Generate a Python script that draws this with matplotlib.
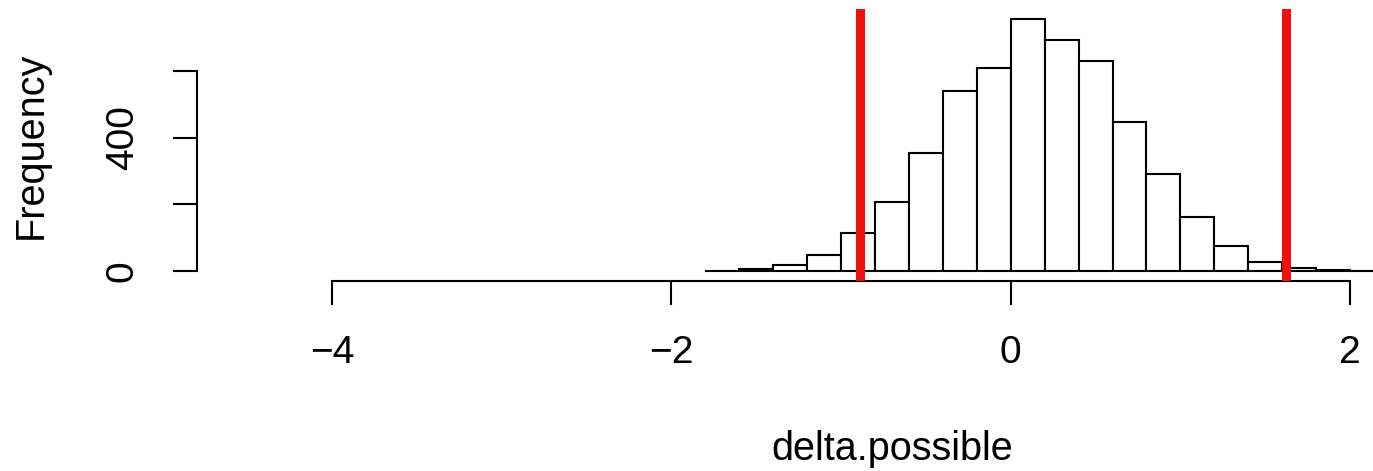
import matplotlib
matplotlib.use("Agg")
import matplotlib.pyplot as plt

# ---- data ----
bin_left = [-1.8, -1.6, -1.4, -1.2, -1.0, -0.8, -0.6, -0.4, -0.2, 0.0,
            0.2, 0.4, 0.6, 0.8, 1.0, 1.2, 1.4, 1.6, 1.8, 2.0]
counts = [1, 5, 18, 47, 115, 208, 355, 540, 608, 756,
          692, 629, 446, 291, 163, 75, 26, 9, 2, 1]
bin_width = 0.2
ci_lines = [-0.888, 1.622]
x_ticks = [-4, -2, 0, 2]
x_ticklabels = ["\u22124", "\u22122", "0", "2"]
y_ticks = [0, 200, 400, 600]
y_ticklabels = ["0", "", "400", ""]
x_label = "delta.possible"
y_label = "Frequency"

plt.rcParams['font.family'] = ['Liberation Sans', 'DejaVu Sans']

W, H = 1373, 471
fig = plt.figure(figsize=(W / 100, H / 100), dpi=100)

# plot region in pixels (R-style, partially cropped on the right)
left_px, right_px = 197, 1587
top_px, bottom_px = 9, 281
ax = fig.add_axes([left_px / W, (H - bottom_px) / H,
                   (right_px - left_px) / W, (bottom_px - top_px) / H])
ax.set_xlim(-4.795, 3.396)
ax.set_ylim(-30.2, 786)

ax.bar(bin_left, counts, width=bin_width, align='edge',
       facecolor='white', edgecolor='black', linewidth=1.5, zorder=2)
for v in ci_lines:
    ax.axvline(v, color='#f01010', linewidth=6.5, zorder=3)

for s in ['top', 'right']:
    ax.spines[s].set_visible(False)
ax.spines['left'].set_bounds(0, 600)
ax.spines['bottom'].set_bounds(-4, 2)
for s in ['left', 'bottom']:
    ax.spines[s].set_linewidth(1.5)

ax.set_xticks(x_ticks)
ax.set_xticklabels(x_ticklabels)
ax.set_yticks(y_ticks)
ax.set_yticklabels(y_ticklabels)
ax.tick_params(axis='both', direction='out', length=17.5, width=1.5,
               labelsize=28)
ax.tick_params(axis='x', pad=34.5)
ax.tick_params(axis='y', pad=36)
for lbl in ax.get_xticklabels():
    lbl.set_va('center')
for lbl in ax.get_yticklabels():
    lbl.set_rotation(90)
    lbl.set_va('center')
    lbl.set_ha('center')

ax.set_xlabel(x_label, fontsize=28.5, va='baseline')
ax.xaxis.set_label_coords(0.5, -(460 - bottom_px) / (bottom_px - top_px))
ax.set_ylabel(y_label, fontsize=28.5, va='baseline', ha='center',
              rotation=90, rotation_mode='anchor')
ax.yaxis.set_label_coords((42 - left_px) / (right_px - left_px), 0.5)

fig.savefig("out.png", dpi=100)
